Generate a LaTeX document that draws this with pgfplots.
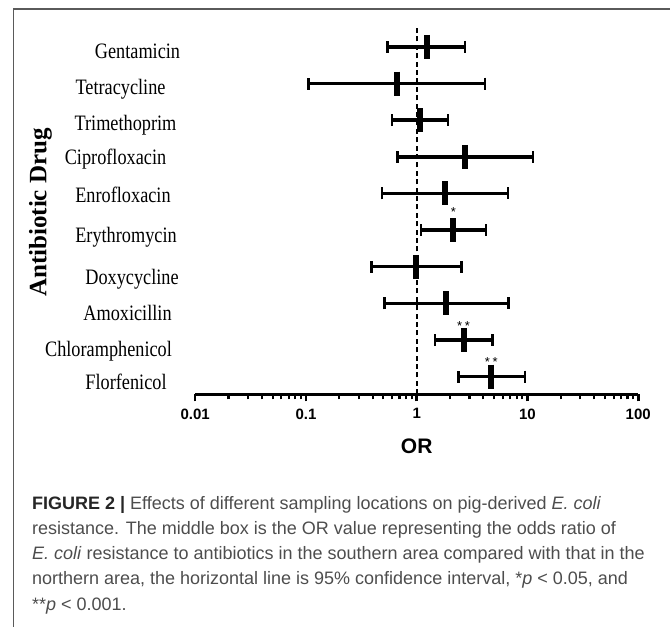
\documentclass[border=0pt]{standalone}
\usepackage{fontspec}
\setmainfont{Liberation Serif}
\setsansfont{Liberation Sans}
\newfontfamily\condserif[FakeStretch=0.83]{Liberation Serif}
\usepackage{pgfplots}
\pgfplotsset{compat=1.18}
\usepackage{pgfplotstable}
\definecolor{captiongray}{HTML}{4D4D4D}
\definecolor{framegray}{HTML}{5A5A5A}

% y: row (10 = top), or: odds ratio, lo/hi: 95% CI
\pgfplotstableread{
y   or    lo     hi
10  1.23  0.548  2.74
9   0.66  0.106  4.15
8   1.06  0.596  1.92
7   2.74  0.674  11.2
6   1.80  0.487  6.65
5   2.14  1.09   4.24
4   0.99  0.39   2.53
3   1.85  0.51   6.74
2   2.65  1.46   4.84
1   4.72  2.39   9.53
}\ordata

\begin{document}
\begin{tikzpicture}
\useasboundingbox (0,0) rectangle (335pt,313.5pt);
\begin{axis}[
  at={(97.6pt,116.35pt)}, anchor=south west,
  scale only axis, width=221.5pt, height=183.8pt,
  xmode=log, xmin=0.01, xmax=100, ymin=0.52, ymax=10.55,
  axis x line*=bottom, axis y line=none,
  xtick={0.01,0.1,1,10,100},
  xticklabels={0.01,0.1,1,10,100},
  minor xtick={0.02,0.03,0.04,0.05,0.06,0.07,0.08,0.09,
               0.2,0.3,0.4,0.5,0.6,0.7,0.8,0.9,
               2,3,4,5,6,7,8,9,20,30,40,50,60,70,80,90},
  ytick=\empty,
  tick align=outside,
  major tick length=3.6pt, minor tick length=2.6pt,
  major tick style={black, line width=1.3pt},
  minor tick style={black, line width=1.1pt},
  axis line style={black, line width=1.5pt},
  xticklabel style={font=\sffamily\bfseries\fontsize{7.5}{8}\selectfont, yshift=0pt},
  xlabel={OR},
  xlabel style={font=\sffamily\bfseries\fontsize{10.5}{12}\selectfont,
    at={(axis description cs:0.5,0)}, anchor=center, yshift=-26.2pt},
  clip=false,
]
\addplot[black, line width=1.1pt, dash pattern=on 2.5pt off 1.7pt]
  coordinates {(1,0.52) (1,10.55)};
\addplot[black, only marks, mark=|, mark size=6pt, mark options={line width=3pt},
  error bars/.cd, x dir=both, x explicit,
  error bar style={line width=1.7pt},
  error mark=|,
  error mark options={line width=1.3pt, mark size=3pt}]
  table[x=or, y=y,
        x error plus expr=\thisrow{hi}-\thisrow{or},
        x error minus expr=\thisrow{or}-\thisrow{lo}] {\ordata};
\node[font=\sffamily\fontsize{6.5}{7}\selectfont, anchor=base] at (axis cs:2.14,5.38) {*};
\node[font=\sffamily\fontsize{6.5}{7}\selectfont, anchor=base] at (axis cs:2.65,2.25) {*\hspace{1.3pt}*};
\node[font=\sffamily\fontsize{6.5}{7}\selectfont, anchor=base] at (axis cs:4.72,1.29) {*\hspace{1.3pt}*};
\end{axis}

\begin{scope}[x=0.5pt, y=-0.5pt, yshift=313.5pt]
  % frame
  \draw[framegray, line width=0.7pt] (670,9) -- (13.3,9) -- (13.3,627);
  % drug names
  \begin{scope}[every node/.style={anchor=base, inner sep=0pt,
      font=\condserif\fontsize{11}{13}\selectfont}]
    \node at (137.5,58.2) {Gentamicin};
    \node at (120.5,94.2) {Tetracycline};
    \node at (125.5,130.2) {Trimethoprim};
    \node at (115.5,164.2) {Ciprofloxacin};
    \node at (123,202.5) {Enrofloxacin};
    \node at (126,242.5) {Erythromycin};
    \node at (132,284.2) {Doxycycline};
    \node at (127.5,320.5) {Amoxicillin};
    \node at (108.5,356.5) {Chloramphenicol};
    \node at (126,389.2) {Florfenicol};
  \end{scope}
  \node[rotate=90, inner sep=0pt, font=\bfseries\fontsize{12.5}{14}\selectfont]
    at (40.5,212.5) {Antibiotic Drug};
  % caption
  \begin{scope}[every node/.style={anchor=base west, inner sep=0pt,
      text=captiongray, font=\sffamily\fontsize{9}{12.5}\selectfont}]
    \node at (31.7,510) {\textcolor{black!85}{\bfseries FIGURE 2 |} Effects of different sampling locations on pig-derived \textit{E. coli}};
    \node at (31.7,535) {resistance. The middle box is the OR value representing the odds ratio of};
    \node at (31.7,560) {\textit{E. coli} resistance to antibiotics in the southern area compared with that in the};
    \node at (31.7,585) {northern area, the horizontal line is 95\% confidence interval, *\textit{p} < 0.05, and};
    \node at (31.7,610) {**\textit{p} < 0.001.};
  \end{scope}
\end{scope}
\end{tikzpicture}
\end{document}
